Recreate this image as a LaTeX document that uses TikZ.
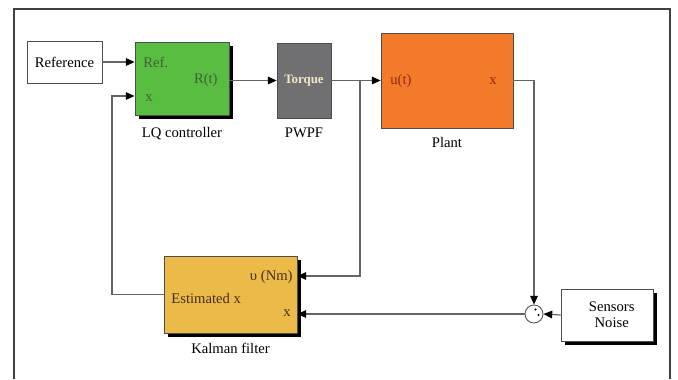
\documentclass[tikz,border=0pt]{standalone}
\usepackage{fontspec}
\setmainfont{Liberation Serif}
\usetikzlibrary{arrows.meta, positioning, shadows}
\definecolor{lqgreen}{RGB}{88,189,64}
\definecolor{lqtext}{RGB}{62,100,52}
\definecolor{pwpfgray}{RGB}{112,112,114}
\definecolor{plantorange}{RGB}{242,122,40}
\definecolor{planttext}{RGB}{150,40,25}
\definecolor{kfyellow}{RGB}{236,186,72}
\definecolor{kftext}{RGB}{70,45,25}
\definecolor{wiregray}{RGB}{100,100,100}

\begin{document}
\begin{tikzpicture}[
      x=0.03cm, y=-0.03cm,
      font=\fontsize{12.5}{14}\selectfont,
      block/.style={draw=black!70, line width=0.7pt, inner sep=0pt},
      shade/.style={drop shadow={shadow xshift=3.4pt, shadow yshift=-3.4pt,
                    opacity=1, fill=black}},
      port/.style={inner sep=1pt},
      lbl/.style={inner sep=1pt},
      arr/.style={-{Triangle[length=7.5pt, width=6.5pt, color=black]},
                  draw=wiregray, line width=1pt}
    ]
    \useasboundingbox (0,0) rectangle (678,379);
    \draw[black!75, line width=1.1pt] (14,379) -- (14,9) -- (670,9) -- (670,379);

    %% Blocks
    \node[block, fill=white, minimum width=2.25cm, minimum height=1.26cm]
      (ref) at (64.5,62) {Reference};
    \node[block, shade, fill=lqgreen, minimum width=2.82cm, minimum height=2.19cm]
      (lq) at (182,78.5) {};
    \node[block, fill=pwpfgray, minimum width=1.62cm, minimum height=2.25cm]
      (pwpf) at (304,80.5) {};
    \node[block, fill=plantorange, minimum width=3.96cm, minimum height=2.85cm]
      (plant) at (447,80.5) {};
    \node[block, shade, fill=kfyellow, minimum width=3.99cm, minimum height=2.31cm]
      (kf) at (230.5,294.5) {};
    \node[block, shade, fill=white, minimum width=2.76cm, minimum height=1.56cm,
          align=center] (noise) at (607,315) {\hspace*{8pt}Sensors\\\hspace*{8pt}Noise};
    \node[draw=black!70, line width=0.7pt, circle, fill=white, inner sep=0pt,
          minimum size=0.54cm] (sum) at (534,314) {};
    \fill (535.5,309.5) circle (1.2);
    \fill (538.5,315) circle (1.2);

    %% Port labels
    \node[port, anchor=west, text=lqtext] (lqref) at (142,62) {Ref.};
    \node[port, anchor=east, text=lqtext] (lqrt) at (219,80) {R(t)};
    \node[port, anchor=west, text=lqtext] (lqx) at (144,98) {x};
    \node[port, text={rgb,255:red,240;green,232;blue,196},
          font=\fontsize{11}{13}\selectfont\bfseries] (torque) at (304,81) {Torque};
    \node[port, anchor=west, text=planttext] (plu) at (389,81) {u(t)};
    \node[port, anchor=east, text=planttext] (plx) at (498,81) {x};
    \node[port, anchor=east, text=kftext] (kfv) at (294,277) {υ (Nm)};
    \node[port, anchor=east, text=kftext] (kfx) at (292,313) {x};
    \node[port, anchor=west, text=kftext] (kfest) at (170,298) {Estimated x};

    %% Block names
    \node[lbl, below=9pt of lq] (lqname) {LQ controller};
    \node[lbl, below=7pt of pwpf] (pwpfname) {PWPF};
    \node[lbl, below=6pt of plant] (plantname) {Plant};
    \node[lbl, below=7pt of kf] (kfname) {Kalman filter};

    %% Connections
    \coordinate (br) at (360,80.5);
    \coordinate (fb) at (112,96);
    \coordinate (kfin) at (0,276);
    \draw[arr] (ref.east) -- (ref.east -| lq.west);
    \draw[arr] (lq.east |- pwpf) -- (pwpf.west);
    \draw[arr] (pwpf.east) -- (plant.west);
    \draw[arr] (br) |- (kf.east |- kfin);
    \draw[arr] (plant.east) -| (sum.north);
    \draw[arr] (noise.west) -- (sum.east);
    \draw[arr] (sum.west) -- (sum.west -| kf.east);
    \draw[arr] (kf.west) -| (fb) -- (fb -| lq.west);
  \end{tikzpicture}
\end{document}
